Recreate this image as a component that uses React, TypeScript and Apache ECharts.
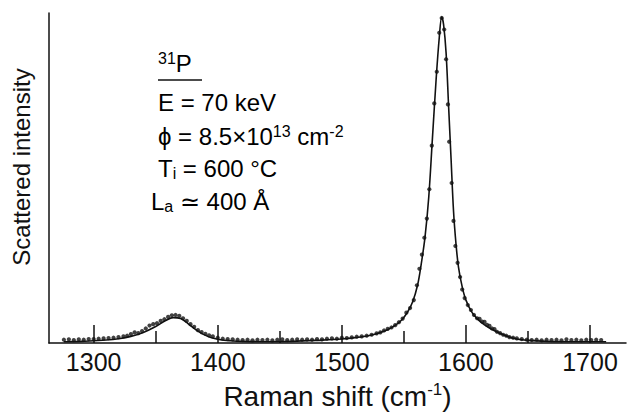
import React, { useEffect, useRef } from "react";
import * as echarts from "echarts";

// Measured Raman spectrum (dots): [Raman shift cm-1, scattered intensity (arb.)]
const measuredPoints: [number, number][] = [
  [1276, 1.0], [1280, 1.1], [1284, 0.9], [1288, 1.1], [1292, 1.0], [1296, 1.2], [1300, 1.2], [1304, 1.3],
  [1308, 1.4], [1312, 1.5], [1316, 1.6], [1320, 1.8], [1324, 2.0], [1327, 2.2], [1330, 2.7], [1333, 3.2],
  [1336, 3.0], [1339, 3.6], [1342, 4.4], [1345, 5.3], [1348, 5.7], [1351, 6.0], [1354, 6.7], [1357, 7.2],
  [1360, 7.9], [1363, 8.4], [1366, 8.5], [1369, 8.2], [1372, 7.5], [1375, 6.7], [1378, 5.7], [1381, 4.9],
  [1384, 3.9], [1387, 3.3], [1390, 2.8], [1393, 2.3], [1396, 2.0], [1400, 1.6], [1404, 1.3], [1408, 1.2],
  [1412, 1.1], [1416, 1.0], [1420, 0.9], [1424, 1.0], [1428, 0.8], [1432, 1.0], [1436, 0.9], [1440, 1.0],
  [1444, 0.8], [1448, 1.0], [1452, 1.1], [1456, 0.9], [1460, 1.0], [1464, 1.1], [1468, 1.0], [1472, 1.1],
  [1476, 1.0], [1480, 1.2], [1484, 1.1], [1488, 1.3], [1492, 1.4], [1496, 1.3], [1500, 1.6], [1504, 1.5],
  [1508, 1.7], [1512, 1.9], [1516, 2.0], [1520, 2.2], [1524, 2.5], [1528, 2.9], [1531, 3.2], [1534, 3.8],
  [1537, 4.3], [1540, 4.7], [1543, 5.4], [1546, 6.3], [1549, 7.4], [1552, 9.2], [1555, 10.6], [1558, 13.0],
  [1560.5, 17.5], [1562.5, 22.5], [1564.5, 26.8], [1566.5, 31.9], [1568.5, 37.7], [1570.5, 46.6],
  [1572.5, 59.8], [1574.5, 72.6], [1576.5, 82.2], [1578.5, 94.0], [1580.5, 98.5], [1582.5, 95.0],
  [1584, 86.0], [1585.5, 72.3], [1586.5, 61.0], [1588.5, 48.5], [1590, 37.0], [1591.5, 29.4],
  [1593.3, 24.3], [1595.3, 20.0], [1597, 16.2], [1599, 13.6], [1601.5, 11.5], [1604, 10.0], [1606.5, 8.5],
  [1609, 7.5], [1611, 7.3], [1613, 6.5], [1615, 6.4], [1617, 5.5], [1619, 5.2], [1621, 4.4], [1623, 4.2],
  [1625, 3.4], [1627.5, 3.0], [1630, 2.5], [1632.5, 2.2], [1635, 1.8], [1638, 1.6], [1641, 1.4],
  [1645, 1.2], [1649, 1.0], [1653, 0.9], [1657, 1.0], [1661, 0.8], [1665, 1.0], [1669, 0.9], [1673, 1.0],
  [1677, 0.8], [1681, 1.1], [1685, 0.9], [1689, 1.0], [1693, 0.8], [1697, 1.0], [1701, 0.9], [1705, 1.0],
  [1709, 0.9],
];

// Fitted curve (solid line)
const fitCurve: [number, number][] = [
  [1276, 0.4], [1290, 0.5], [1300, 0.7], [1310, 0.9], [1320, 1.3], [1330, 2.0], [1340, 3.2], [1350, 5.0],
  [1358, 6.8], [1364, 7.7], [1370, 7.4], [1376, 5.9], [1382, 4.1], [1388, 2.7], [1395, 1.6], [1402, 1.0],
  [1410, 0.7], [1420, 0.5], [1440, 0.4], [1460, 0.5], [1480, 0.8], [1500, 1.2], [1515, 1.8], [1525, 2.5],
  [1535, 3.7], [1542, 5.1], [1548, 6.9], [1553, 9.4], [1557, 12.4], [1561, 17.5], [1564, 24], [1567, 32],
  [1570, 44], [1573, 62], [1576, 80], [1578.5, 92.5], [1580.5, 98.8], [1582, 96.5], [1584, 88], [1586, 72],
  [1588, 56], [1590, 40], [1592, 30], [1594, 23], [1597, 17], [1600, 13], [1605, 9.2], [1610, 7.0],
  [1615, 5.5], [1620, 4.3], [1630, 2.5], [1640, 1.3], [1650, 0.8], [1665, 0.5], [1690, 0.4], [1713, 0.4],
];

const xLabelValues = [1300, 1400, 1500, 1600, 1700];
const xMajorTicks = [1300, 1400, 1500, 1600, 1700];
const xMinorTicks = [1350, 1450, 1550, 1650];

const FONT = "Liberation Sans";
const INK = "#111";

export default function App() {
  const ref = useRef<HTMLDivElement>(null);
  useEffect(() => {
    if (!ref.current) return;
    document.body.style.margin = "0";
    const chart = echarts.init(ref.current, null, { renderer: "svg" });
    const base = { fontFamily: FONT, fontSize: 24, color: INK, lineHeight: 26 };
    const sup = { fontFamily: FONT, fontSize: 16, color: INK, verticalAlign: "top", lineHeight: 16 };
    const sub = { fontFamily: FONT, fontSize: 16, color: INK, verticalAlign: "bottom", lineHeight: 16 };
    chart.setOption({
      animation: false,
      backgroundColor: "#fff",
      grid: { left: 49, right: 2, top: 13, bottom: 69, containLabel: false, outerBoundsMode: "none" },
      xAxis: [
        {
          type: "value",
          min: 1264,
          max: 1729,
          position: "bottom",
          axisLine: { show: true, lineStyle: { color: INK, width: 1.5 } },
          axisTick: { show: true, inside: true, length: 18, customValues: xMajorTicks, lineStyle: { color: INK, width: 1.5 } },
          axisLabel: {
            show: true,
            customValues: xLabelValues,
            margin: 6,
            fontFamily: FONT,
            fontSize: 25,
            color: INK,
            formatter: (v: number) => String(v),
          },
          splitLine: { show: false },
          name: "{n|Raman shift (cm}{s|-1}{n|)}",
          nameLocation: "middle",
          nameGap: 38,
          nameTextStyle: {
            rich: {
              n: { fontFamily: FONT, fontSize: 28, color: INK, lineHeight: 30 },
              s: { fontFamily: FONT, fontSize: 17, color: INK, verticalAlign: "top", lineHeight: 17 },
            },
          },
        },
        {
          type: "value",
          min: 1264,
          max: 1729,
          position: "bottom",
          axisLine: { show: false },
          axisTick: { show: true, inside: true, length: 12, customValues: xMinorTicks, lineStyle: { color: INK, width: 1.5 } },
          axisLabel: { show: false },
          splitLine: { show: false },
        },
      ],
      yAxis: {
        type: "value",
        min: 0,
        max: 100,
        axisLine: { show: true, lineStyle: { color: INK, width: 1.5 } },
        axisTick: { show: false },
        axisLabel: { show: false },
        splitLine: { show: false },
        name: "Scattered intensity",
        nameLocation: "middle",
        nameGap: 16,
        nameTextStyle: { fontFamily: FONT, fontSize: 24, color: INK, padding: [0, 0, 0, 22] },
      },
      series: [
        {
          type: "line",
          data: fitCurve,
          smooth: 0.35,
          showSymbol: false,
          lineStyle: { color: INK, width: 1.6 },
          z: 2,
        },
        {
          type: "scatter",
          data: measuredPoints,
          symbol: "circle",
          symbolSize: 4.2,
          itemStyle: { color: INK },
          z: 3,
        },
      ],
      graphic: [
        {
          type: "text",
          left: 158,
          top: 50,
          style: { text: "{s|31}{b|P}", rich: { b: base, s: sup } },
        },
        {
          type: "line",
          shape: { x1: 158, y1: 80, x2: 202, y2: 80 },
          style: { stroke: INK, lineWidth: 1.5 },
        },
        {
          type: "text",
          left: 158,
          top: 90,
          style: { text: "{b|E = 70 keV}", rich: { b: base } },
        },
        {
          type: "text",
          left: 158,
          top: 123,
          style: { text: "{b|ϕ = 8.5×10}{s|13}{b| cm}{s|-2}", rich: { b: base, s: sup } },
        },
        {
          type: "text",
          left: 158,
          top: 156,
          style: { text: "{b|T}{u|i}{b| = 600 °C}", rich: { b: base, u: sub } },
        },
        {
          type: "text",
          left: 151,
          top: 189,
          style: { text: "{b|L}{u|a}{b| ≃ 400 Å}", rich: { b: base, u: sub } },
        },
      ],
    });
    return () => chart.dispose();
  }, []);
  return <div ref={ref} style={{ width: 628, height: 412 }} />;
}
